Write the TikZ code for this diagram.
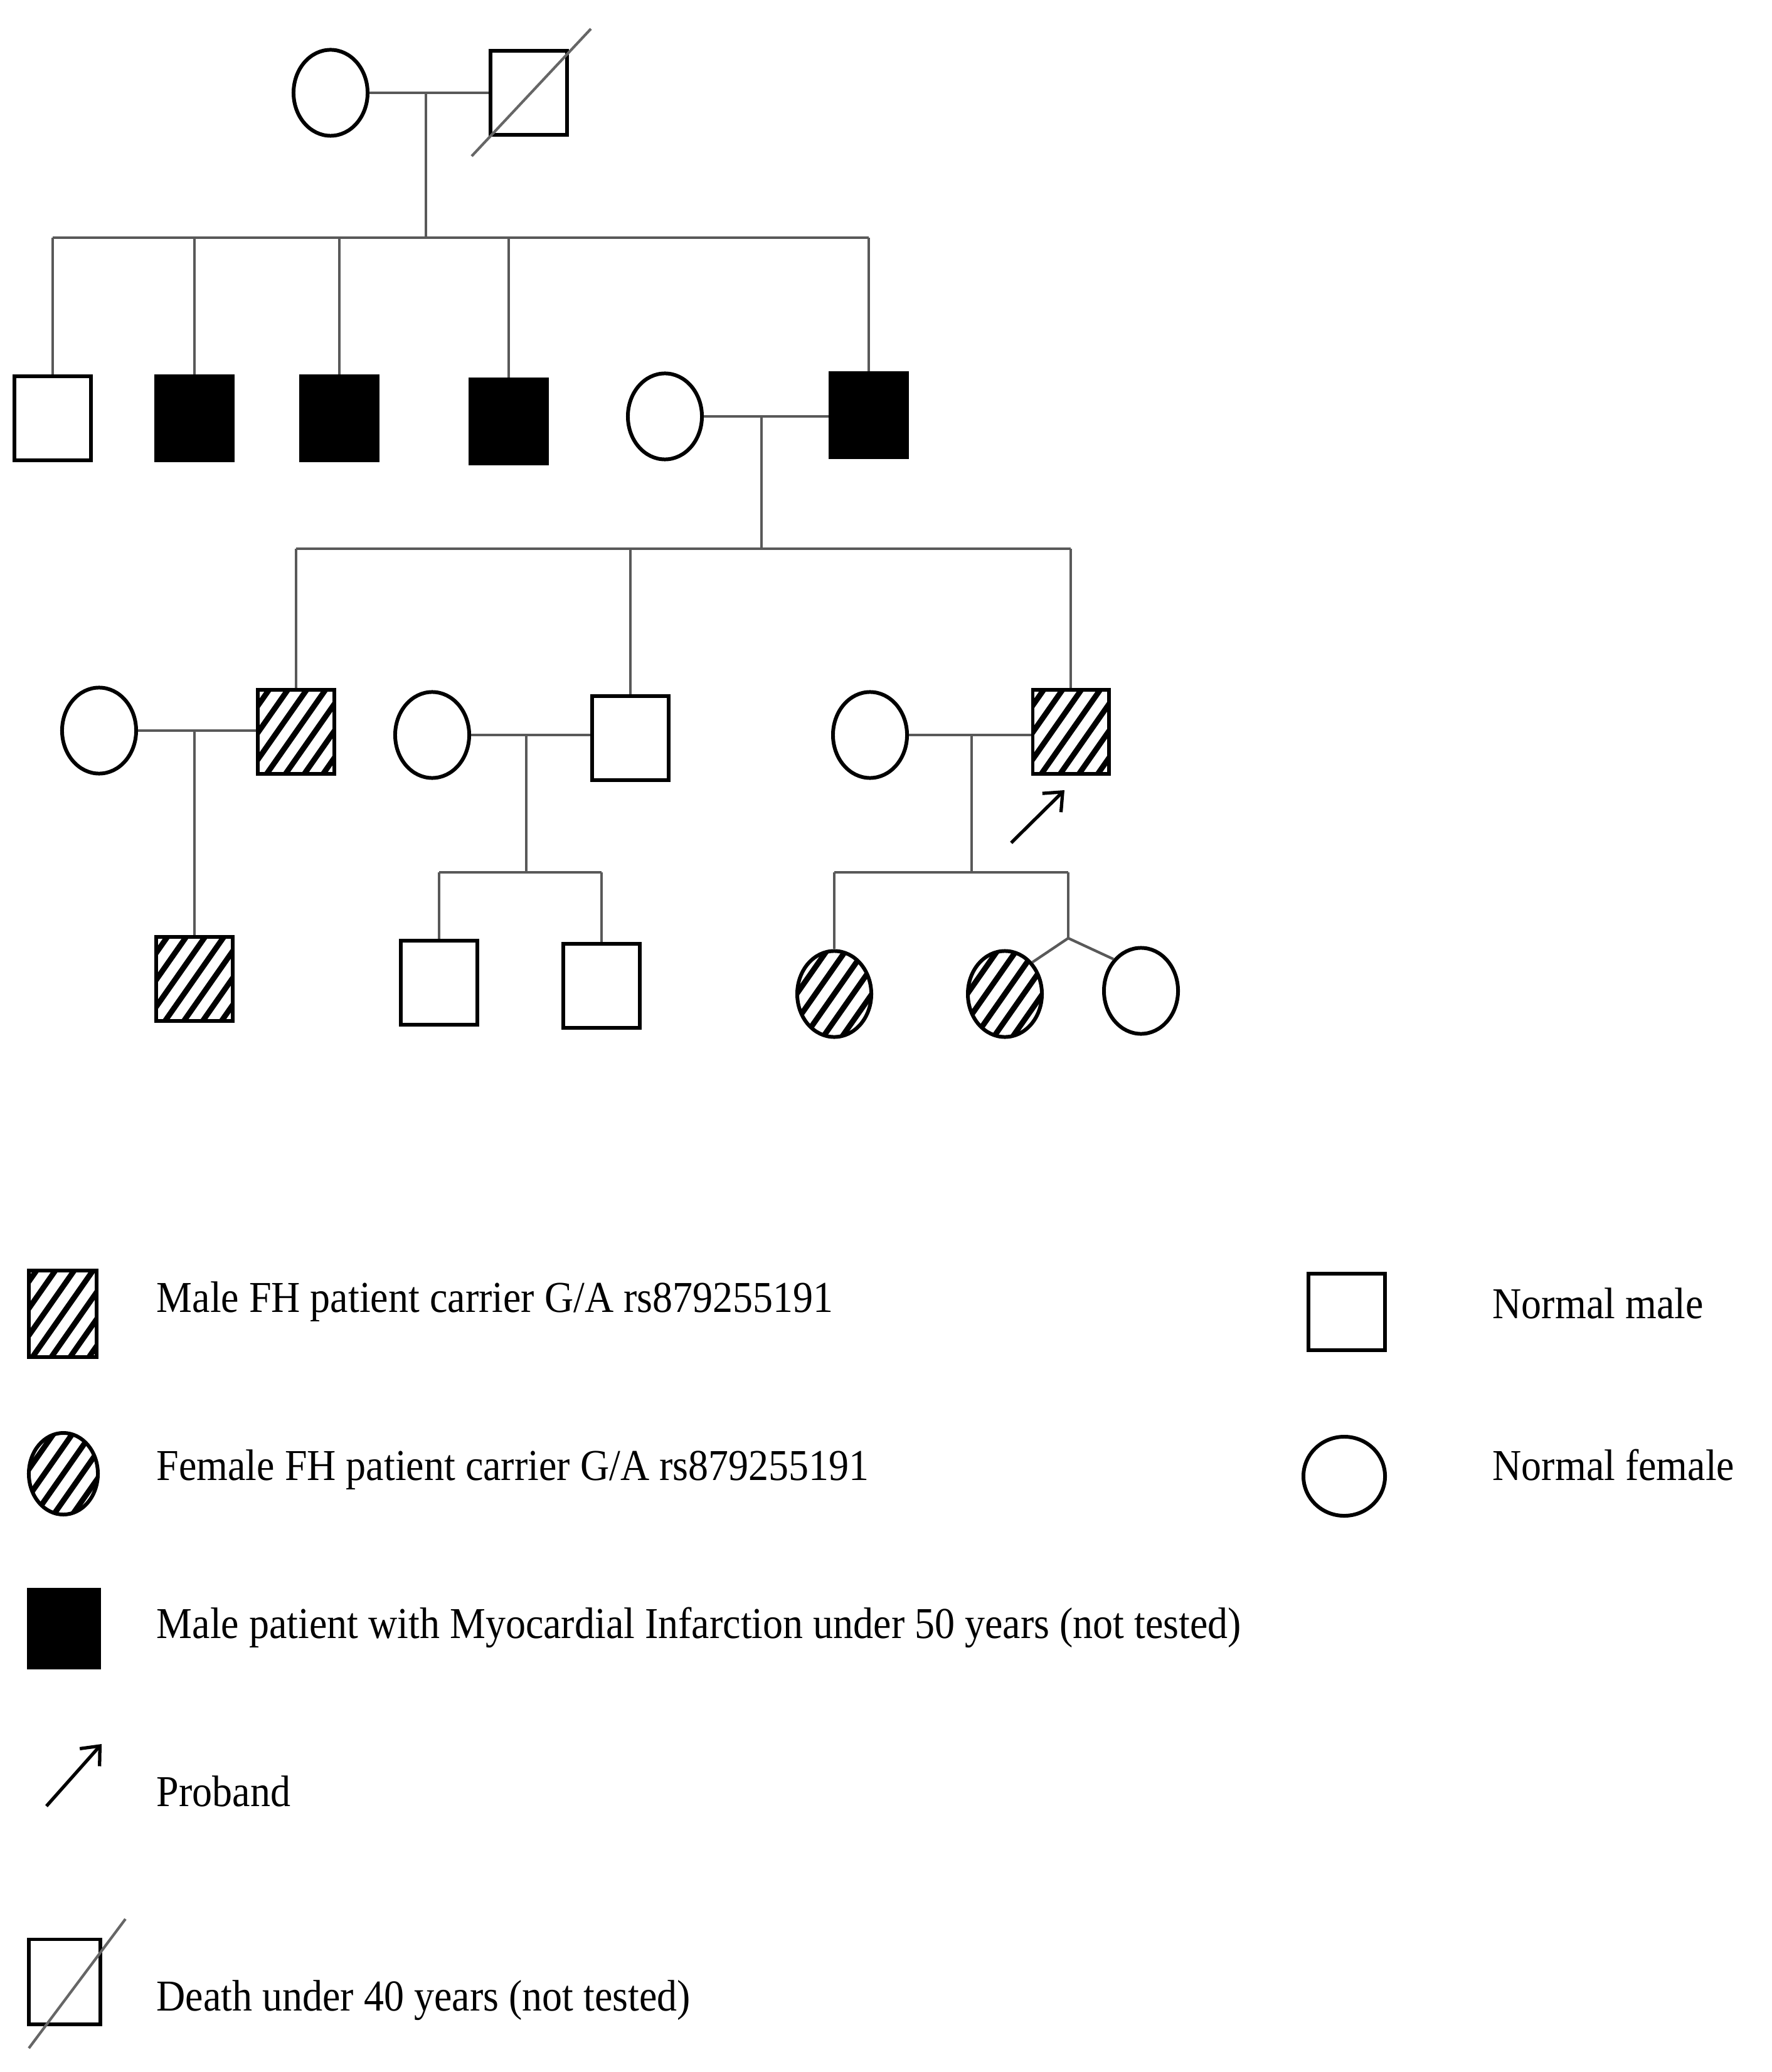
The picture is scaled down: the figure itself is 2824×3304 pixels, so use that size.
\documentclass[tikz,border=0pt]{standalone}
\usepackage{fontspec}
\setmainfont[FakeStretch=0.91]{Liberation Serif}
\usetikzlibrary{arrows.meta,shapes.geometric}
\tikzset{
  sym/.style={draw=black, line width=1.7pt, inner sep=0pt},
  male/.style={sym, rectangle, minimum width=1.21cm, minimum height=1.33cm},
  female/.style={sym, ellipse, minimum width=1.18cm, minimum height=1.37cm},
  affected/.style={fill=black},
  hatched/.style={path picture={
      \foreach \k in {-9,...,9}
        \draw[line width=2.5pt] ([xshift=\k*0.3cm]path picture bounding box.center) ++(-100,143) -- ++(200,-286);
    }},
  link/.style={draw=black!65, line width=1.2pt},
  slash/.style={draw=black!60, line width=1.2pt},
  proarrow/.style={draw=black, line width=1.5pt, -{Straight Barb[length=7pt,width=12pt]}},
  legtext/.style={anchor=base west, inner sep=0pt, font=\fontsize{20}{24}\selectfont}
}
\begin{document}
\begin{tikzpicture}[x=0.01cm, y=-0.01cm]
\useasboundingbox[fill=white] (0,0) rectangle (2824,3304);

% ---------- Generation I ----------
\node[female] (f1) at (527,148) {};
\node[male] (m1) at (843,148) {};
\coordinate (s1a) at (752,249);
\coordinate (s1b) at (942,46);
\draw[slash] (s1a) -- (s1b);
\draw[link] (f1.east) -- (f1.east -| m1.west);
\coordinate (j1) at (679,148);
\coordinate (k1) at (679,379);
\draw[link] (j1) -- (k1);

% ---------- Generation II ----------
\node[male] (a1) at (84,667) {};
\node[male, affected] (a2) at (310,667) {};
\node[male, affected] (a3) at (541,667) {};
\node[male, affected] (a4) at (811,672) {};
\node[female] (a5) at (1060,664) {};
\node[male, affected] (a6) at (1385,662) {};
\coordinate (g1l) at (84,379);
\coordinate (g1r) at (1385,379);
\draw[link] (g1l) -- (g1r);
\foreach \n in {a1,a2,a3,a4,a6}
  \draw[link] (\n.north |- g1l) -- (\n.north);
\draw[link] (a5.east) -- (a5.east -| a6.west);
\coordinate (j2) at (1214,664);
\coordinate (k2) at (1214,875);
\draw[link] (j2) -- (k2);

% ---------- Generation III ----------
\node[female] (b1) at (158,1165) {};
\node[male, hatched] (b2) at (472,1167) {};
\node[female] (b3) at (689,1172) {};
\node[male] (b4) at (1005,1177) {};
\node[female] (b5) at (1387,1172) {};
\node[male, hatched] (b6) at (1707,1167) {};
\coordinate (g2l) at (472,875);
\coordinate (g2r) at (1707,875);
\draw[link] (g2l) -- (g2r);
\foreach \n in {b2,b4,b6}
  \draw[link] (\n.north |- g2l) -- (\n.north);
\draw[link] (b1.east) -- (b1.east -| b2.west);
\draw[link] (b3.east) -- (b3.east -| b4.west);
\draw[link] (b5.east) -- (b5.east -| b6.west);
\coordinate (pa) at (1612,1344);
\coordinate (pb) at (1697,1260);
\draw[proarrow] (pa) -- (pb);

% ---------- Generation IV ----------
\node[male, hatched] (d1) at (310,1561) {};
\node[male] (d2) at (700,1567) {};
\node[male] (d3) at (959,1572) {};
\node[female, hatched] (d4) at (1330,1585) {};
\node[female, hatched] (d5) at (1602,1585) {};
\node[female] (d6) at (1819,1580) {};
\coordinate (j3) at (310,1165);
\draw[link] (j3) -- (d1.north);
\coordinate (j4) at (839,1172);
\coordinate (k4) at (839,1391);
\draw[link] (j4) -- (k4);
\coordinate (g4l) at (700,1391);
\coordinate (g4r) at (959,1391);
\draw[link] (g4l) -- (g4r);
\draw[link] (g4l) -- (d2.north);
\draw[link] (g4r) -- (d3.north);
\coordinate (j5) at (1549,1172);
\coordinate (k5) at (1549,1391);
\draw[link] (j5) -- (k5);
\coordinate (g5l) at (1330,1391);
\coordinate (g5r) at (1703,1391);
\draw[link] (g5l) -- (g5r);
\draw[link] (g5l) -- (d4.north);
\coordinate (tw) at (1703,1496);
\draw[link] (g5r) -- (tw);
\draw[link] (tw) -- (d5.north east);
\draw[link] (tw) -- (d6.north west);

% ---------- Legend ----------
\node[male, hatched, minimum width=1.08cm, minimum height=1.37cm] (L1) at (100,2095) {};
\node[legtext] (T1) at (249,2092) {Male FH patient carrier G/A rs879255191};
\node[male, minimum width=1.22cm, minimum height=1.22cm] (N1) at (2147,2092) {};
\node[legtext] (TN1) at (2379,2102) {Normal male};

\node[female, hatched, minimum width=1.1cm, minimum height=1.3cm] (L2) at (101,2350) {};
\node[legtext] (T2) at (249,2360) {Female FH patient carrier G/A rs879255191};
\node[female, minimum width=1.3cm, minimum height=1.26cm] (N2) at (2143,2354) {};
\node[legtext] (TN2) at (2379,2360) {Normal female};

\node[male, affected, minimum width=1.12cm, minimum height=1.24cm] (L3) at (102,2597) {};
\node[legtext] (T3) at (249,2612) {Male patient with Myocardial Infarction under 50 years (not tested)};

\coordinate (L4a) at (74,2880);
\coordinate (L4b) at (162,2781);
\draw[proarrow] (L4a) -- (L4b);
\node[legtext] (T4) at (249,2880) {Proband};

\node[male, minimum width=1.14cm, minimum height=1.35cm] (L5) at (103,3160) {};
\coordinate (s5a) at (46,3266);
\coordinate (s5b) at (200,3060);
\draw[slash] (s5a) -- (s5b);
\node[legtext] (T5) at (249,3206) {Death under 40 years (not tested)};
\end{tikzpicture}
\end{document}
